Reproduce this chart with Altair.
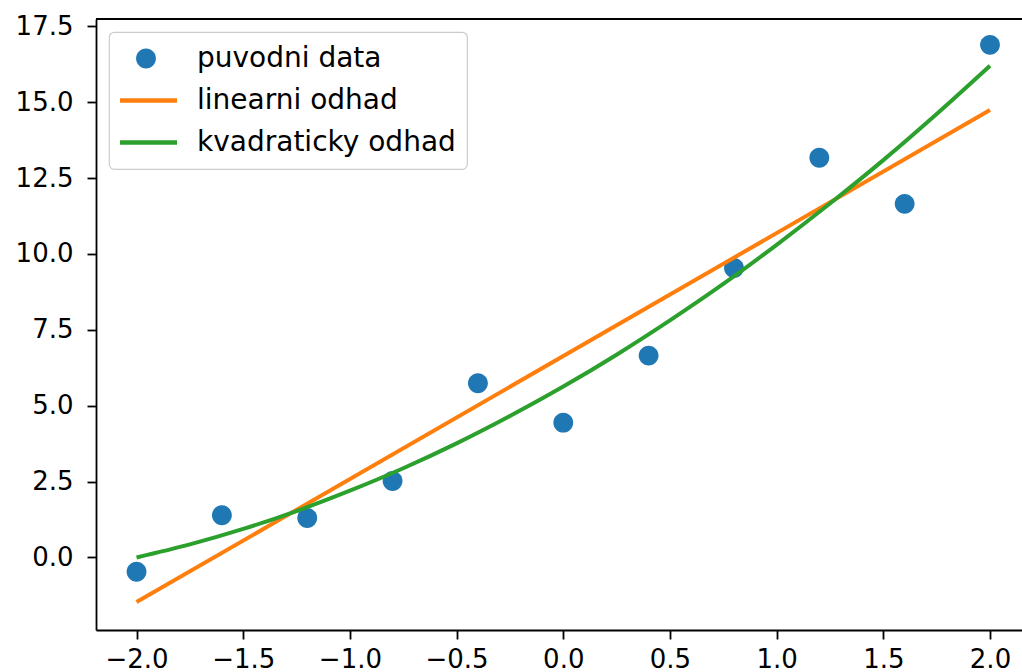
import altair as alt
import pandas as pd

# Series names and colours
names = ["puvodni data", "linearni odhad", "kvadraticky odhad"]
colors = ["#1f77b4", "#ff7f0e", "#2ca02c"]

# Measured data points
x_points = [-2.0, -1.6, -1.2, -0.8, -0.4, 0.0, 0.4, 0.8, 1.2, 1.6, 2.0]
y_points = [-0.47, 1.39, 1.30, 2.52, 5.74, 4.44, 6.65, 9.54, 13.17, 11.65, 16.89]

# Linear estimate
x_linear = [-2.0, 2.0]
y_linear = [-1.47, 14.74]

# Quadratic estimate
x_quad = [-2.0, -1.75, -1.5, -1.25, -1.0, -0.75, -0.5, -0.25, 0.0,
          0.25, 0.5, 0.75, 1.0, 1.25, 1.5, 1.75, 2.0]
y_quad = [0.0, 0.43, 0.94, 1.53, 2.20, 2.94, 3.76, 4.66, 5.63,
          6.68, 7.81, 9.01, 10.30, 11.66, 13.09, 14.61, 16.20]

# Tick values
x_ticks = [-2.0, -1.5, -1.0, -0.5, 0.0, 0.5, 1.0, 1.5, 2.0]
y_ticks = [0.0, 2.5, 5.0, 7.5, 10.0, 12.5, 15.0, 17.5]

pts = pd.DataFrame({"x": x_points, "y": y_points, "series": names[0]})
lns = pd.concat([
    pd.DataFrame({"x": x_linear, "y": y_linear, "series": names[1]}),
    pd.DataFrame({"x": x_quad, "y": y_quad, "series": names[2]}),
])

W, H = 926, 611
FONT = "DejaVu Sans"
SYM = 3844  # symbol area; custom paths below are drawn in units of sqrt(SYM)/2
dot = "M0.32,0A0.32,0.32,0,1,1,-0.32,0A0.32,0.32,0,1,1,0.32,0Z"
bar = "M-1,-0.07H1V0.07H-1Z"

xs = alt.Scale(domain=[-2.19, 2.15], nice=False, zero=False)
ys = alt.Scale(domain=[-2.39, 17.74], nice=False, zero=False)
x_axis = alt.Axis(values=x_ticks, format=".1f", title=None, labelPadding=7)
y_axis = alt.Axis(values=y_ticks, format=".1f", title=None, labelPadding=14)
color_scale = alt.Scale(domain=names, range=colors)

legend = alt.Legend(
    title=None, orient="top-left", offset=13, padding=11,
    strokeColor="#cccccc", fillColor="white",
    labelFont=FONT, labelFontSize=28, labelColor="black", labelLimit=500,
    symbolSize=SYM, symbolStrokeWidth=0, symbolOpacity=1,
    symbolOffset=-5, labelOffset=20, rowPadding=11, clipHeight=31,
)

points = alt.Chart(pts).mark_point(filled=True, opacity=1, size=SYM, strokeWidth=0).encode(
    x=alt.X("x:Q", scale=xs, axis=x_axis),
    y=alt.Y("y:Q", scale=ys, axis=y_axis),
    color=alt.Color("series:N", scale=color_scale, legend=legend),
    shape=alt.Shape("series:N", scale=alt.Scale(domain=names, range=[dot, bar, bar]), legend=legend),
)

lines = alt.Chart(lns).mark_line(strokeWidth=4, interpolate="monotone").encode(
    x=alt.X("x:Q", scale=xs, axis=x_axis),
    y=alt.Y("y:Q", scale=ys, axis=y_axis),
    color=alt.Color("series:N", scale=color_scale, legend=None),
)

# top edge of the frame
frame_top = alt.Chart(pd.DataFrame({"k": [0]})).mark_rule(color="black", strokeWidth=1.8).encode(
    x=alt.value(0), x2=alt.value(W), y=alt.value(0)
)

chart = alt.layer(points, lines, frame_top).properties(
    width=W, height=H,
    autosize=alt.AutoSizeParams(type="none"),
    padding={"left": 96, "top": 19, "right": 0, "bottom": 42},
    background="white",
).configure_view(stroke=None).configure_axis(
    grid=False, domainColor="black", domainWidth=1.8,
    tickColor="black", tickWidth=1.8, tickSize=9,
    labelFont=FONT, labelFontSize=26, labelColor="black",
).configure_legend(strokeWidth=1.2, cornerRadius=5)

chart.save("out.html", embed_options={"renderer": "svg", "actions": False})
